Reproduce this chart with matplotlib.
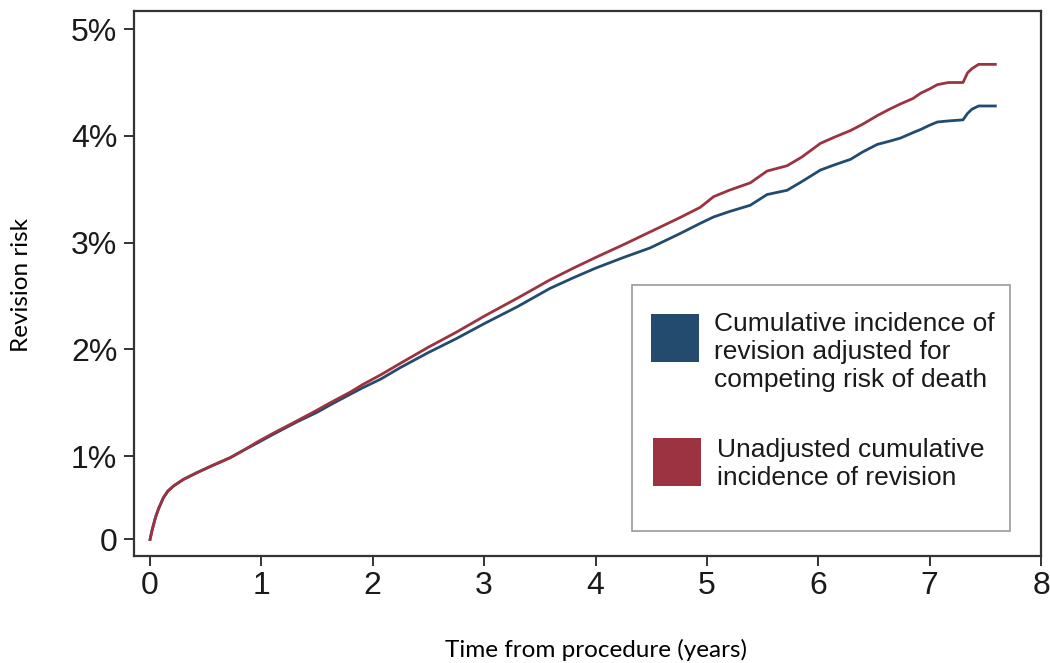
from matplotlib import pyplot as plt
from matplotlib import patches as mpatches
import numpy as np

# years since procedure
years = [0, 0.02, 0.05, 0.08, 0.12, 0.16, 0.21, 0.3, 0.42, 0.55, 0.72, 0.85, 0.96,
         1.1, 1.32, 1.5, 1.62, 1.8, 1.91, 2.07, 2.25, 2.5, 2.75, 3.0, 3.3, 3.59,
         3.8, 4.0, 4.25, 4.49, 4.75, 4.94, 5.06, 5.2, 5.39, 5.54, 5.72, 5.85,
         6.02, 6.15, 6.29, 6.4, 6.53, 6.64, 6.74, 6.85, 6.92, 7.0, 7.07, 7.17,
         7.30, 7.34, 7.38, 7.44, 7.59]

# unadjusted cumulative incidence (%)
unadjusted = [0, 0.12, 0.27, 0.38, 0.50, 0.58, 0.64, 0.72, 0.80, 0.88, 0.98, 1.06, 1.13,
              1.21, 1.33, 1.43, 1.50, 1.60, 1.67, 1.76, 1.87, 2.02, 2.16, 2.31, 2.48, 2.65,
              2.76, 2.86, 2.98, 3.10, 3.23, 3.33, 3.43, 3.49, 3.56, 3.67, 3.72, 3.80,
              3.93, 3.99, 4.05, 4.11, 4.19, 4.25, 4.30, 4.35, 4.40, 4.44, 4.48, 4.50,
              4.50, 4.59, 4.63, 4.67, 4.67]

# adjusted for competing risk of death (%)
adjusted = [0, 0.12, 0.27, 0.38, 0.50, 0.58, 0.64, 0.72, 0.80, 0.88, 0.98, 1.06, 1.12,
            1.20, 1.32, 1.41, 1.48, 1.58, 1.64, 1.72, 1.83, 1.97, 2.10, 2.24, 2.40, 2.57,
            2.67, 2.76, 2.86, 2.95, 3.08, 3.18, 3.24, 3.29, 3.35, 3.45, 3.49, 3.57,
            3.68, 3.73, 3.78, 3.85, 3.92, 3.95, 3.98, 4.03, 4.06, 4.10, 4.13, 4.14,
            4.15, 4.21, 4.25, 4.28, 4.28]

x_ticks = [0, 1, 2, 3, 4, 5, 6, 7, 8]
y_ticks = [0, 1, 2, 3, 4, 5]
y_tick_labels = ['0', '1%', '2%', '3%', '4%', '5%']

label_adjusted = "Cumulative incidence of\nrevision adjusted for\ncompeting risk of death"
label_unadjusted = "Unadjusted cumulative\nincidence of revision"

blue = '#234b6e'
red = '#9b3341'
dark = '#333333'

# y axis is squeezed between 0 and 1%
def fwd(v):
    v = np.asarray(v, dtype=float)
    return np.where(v < 1, 0.218 + 0.782 * v, v)

def inv(t):
    t = np.asarray(t, dtype=float)
    return np.where(t < 1, (t - 0.218) / 0.782, t)

W, H = 1050, 663
fig = plt.figure(figsize=(10.5, 6.63), dpi=100)
ax = fig.add_axes([134 / W, 1 - 556 / H, (1041 - 134) / W, (556 - 11) / H])
ax.set_yscale('function', functions=(fwd, inv))

ax.plot(years, adjusted, color=blue, lw=2.0, solid_joinstyle='round')
ax.plot(years, unadjusted, color=red, lw=2.0, solid_joinstyle='round')

ax.set_xlim(-0.144, 8.0)
ax.set_ylim(-0.198, 5.17)
ax.set_xticks(x_ticks)
ax.set_xticklabels([str(t) for t in x_ticks])
ax.set_yticks(y_ticks)
ax.set_yticklabels(y_tick_labels)
ax.minorticks_off()

for sp in ax.spines.values():
    sp.set_color(dark)
    sp.set_linewidth(1.6)
ax.tick_params(axis='both', direction='out', length=7, width=1.4, color=dark,
               labelsize=23, labelcolor='#1a1a1a')
ax.tick_params(axis='x', pad=4)
ax.tick_params(axis='y', pad=5)
for lab in ax.get_xticklabels() + ax.get_yticklabels():
    lab.set_fontfamily('Liberation Sans')

# axis titles
fig.text(596 / W, 1 - 650 / H, "Time from procedure (years)", family='Lato',
         fontsize=17.5, ha='center', va='center')
fig.text(22 / W, 1 - 285 / H, "Revision risk", family='Lato', fontsize=17.5,
         rotation=90, ha='center', va='center')

# legend box drawn by hand
box = mpatches.Rectangle((632 / W, 1 - 531 / H), (1010 - 632) / W, (531 - 285) / H,
                         transform=fig.transFigure, facecolor='white',
                         edgecolor='#999999', lw=1.2)
fig.add_artist(box)
sq1 = mpatches.Rectangle((651 / W, 1 - 362 / H), 48 / W, 48 / H,
                         transform=fig.transFigure, facecolor=blue, edgecolor='none')
sq2 = mpatches.Rectangle((653 / W, 1 - 486 / H), 48 / W, 48 / H,
                         transform=fig.transFigure, facecolor=red, edgecolor='none')
fig.add_artist(sq1)
fig.add_artist(sq2)
fig.text(714 / W, 1 - 312 / H, label_adjusted, family='Liberation Sans',
         fontsize=19, va='top', ha='left', linespacing=1.22, color='#1a1a1a')
fig.text(717 / W, 1 - 438 / H, label_unadjusted, family='Liberation Sans',
         fontsize=19, va='top', ha='left', linespacing=1.22, color='#1a1a1a')

fig.savefig('out.png', dpi=100)
